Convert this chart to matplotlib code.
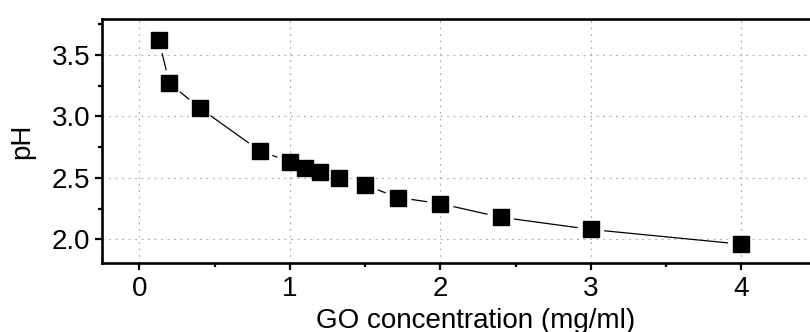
import numpy as np
import matplotlib
matplotlib.use("Agg")
import matplotlib.pyplot as plt
from matplotlib.ticker import MultipleLocator

go_conc = [0.13, 0.2, 0.4, 0.8, 1.0, 1.1, 1.2, 1.33, 1.5, 1.72, 2.0, 2.4, 3.0, 4.0]
ph = [3.62, 3.27, 3.07, 2.72, 2.63, 2.58, 2.55, 2.50, 2.44, 2.34, 2.29, 2.18, 2.08, 1.96]
x_ticks = [0, 1, 2, 3, 4]
y_ticks = [2.0, 2.5, 3.0, 3.5]
x_label = "GO concentration (mg/ml)"
y_label = "pH"

plt.rcParams['font.family'] = ['Liberation Sans', 'DejaVu Sans']

W, H = 810, 332
dpi = 100
fig = plt.figure(figsize=(W / dpi, H / dpi), dpi=dpi)
left, right = 101.7, 816.6
top, bottom = 19, 263
ax = fig.add_axes([left / W, 1 - bottom / H, (right - left) / W, (bottom - top) / H])
ax.set_xlim(-0.25, 4.5)
ax.set_ylim(1.807, 3.793)

ax.set_xticks(x_ticks)
ax.set_yticks(y_ticks)
ax.set_yticklabels([f"{v:.1f}" for v in y_ticks])
ax.xaxis.set_minor_locator(MultipleLocator(0.5))
ax.yaxis.set_minor_locator(MultipleLocator(0.25))
ax.tick_params(which='major', direction='out', length=5, width=1.6, labelsize=20)
ax.tick_params(axis='y', which='major', pad=3)
ax.tick_params(axis='x', which='major', pad=4)
ax.tick_params(which='minor', direction='out', length=3, width=1.6)
ax.tick_params(top=False, right=False, which='both')

for s in ['left', 'bottom', 'top']:
    ax.spines[s].set_linewidth(1.9)
ax.spines['right'].set_visible(False)

ax.grid(True, which='major', color='#b4b4b4', linestyle=(0, (1.6, 3.6)), linewidth=0.9)
ax.set_axisbelow(True)

# connecting line with gaps near markers (Origin style)
gap = 14.0  # pixels from marker centre
pts = ax.transData.transform(np.column_stack([go_conc, ph]))
inv = ax.transData.inverted()
for i in range(len(pts) - 1):
    p0, p1 = pts[i], pts[i + 1]
    d = p1 - p0
    L = np.hypot(*d)
    if L <= 2 * gap + 1:
        continue
    u = d / L
    a = inv.transform(p0 + u * gap)
    b = inv.transform(p1 - u * gap)
    ax.plot([a[0], b[0]], [a[1], b[1]], color='black', linewidth=0.9, zorder=2)

ax.plot(go_conc, ph, linestyle='none', marker='s', markersize=12.2,
        markerfacecolor='black', markeredgecolor='black', zorder=3, clip_on=False)

ax.set_xlabel(x_label, fontsize=20, labelpad=5)
ax.xaxis.label.set_x(0.5236)
ax.set_ylabel(y_label, fontsize=20, labelpad=12)

fig.savefig("out.png", dpi=dpi)
